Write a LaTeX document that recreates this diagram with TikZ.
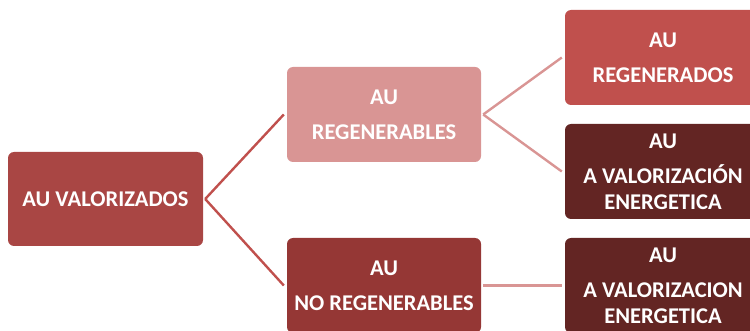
\documentclass[tikz,border=0pt]{standalone}
\usepackage{fontspec}
\setmainfont{Carlito}
\definecolor{cRoot}{HTML}{A94644}
\definecolor{cRegen}{HTML}{D99594}
\definecolor{cNoReg}{HTML}{953735}
\definecolor{cRegdos}{HTML}{C0504D}
\definecolor{cEner}{HTML}{632523}
\definecolor{cLineA}{HTML}{C0504D}
\definecolor{cLineB}{HTML}{D99594}
\tikzset{
  box/.style={rounded corners=6pt, inner sep=0pt, minimum height=95pt,
    text=white, align=center, font=\fontsize{22.5}{26}\selectfont\bfseries},
  linkA/.style={draw=cLineA, line width=2.4pt},
  linkB/.style={draw=cLineB, line width=2.4pt}
}
\begin{document}
\begin{tikzpicture}[x=1pt,y=-1pt]
\useasboundingbox (0,0) rectangle (750,331);
\clip (0,0) rectangle (750,331);
\node[box, fill=cRoot, minimum width=195pt, minimum height=94pt] (root) at (105.5,199) {AU VALORIZADOS};
\node[box, fill=cRegen, minimum width=194pt] (reg) at (384,114.5) {AU\\[9pt]REGENERABLES};
\node[box, fill=cNoReg, minimum width=194pt] (noreg) at (384,285.5) {AU\\[9pt]NO REGENERABLES};
\node[box, fill=cRegdos, minimum width=196pt] (regdos) at (663,57.5) {AU\\[9pt]REGENERADOS};
\node[box, fill=cEner, minimum width=196pt] (ener1) at (663,171.5) {AU\\[9pt]A VALORIZACIÓN\\ENERGETICA};
\node[box, fill=cEner, minimum width=196pt] (ener2) at (663,285.5) {AU\\[9pt]A VALORIZACION\\ENERGETICA};
\draw[linkA] ([xshift=2pt]root.east) -- ([xshift=-3pt]reg.west);
\draw[linkA] ([xshift=2pt]root.east) -- ([xshift=-3pt]noreg.west);
\draw[linkB] ([xshift=2pt]reg.east) -- ([xshift=-3pt]regdos.west);
\draw[linkB] ([xshift=2pt]reg.east) -- ([xshift=-3pt]ener1.west);
\draw[linkB] ([xshift=2pt]noreg.east) -- ([xshift=-3pt]ener2.west);
\end{tikzpicture}
\end{document}
